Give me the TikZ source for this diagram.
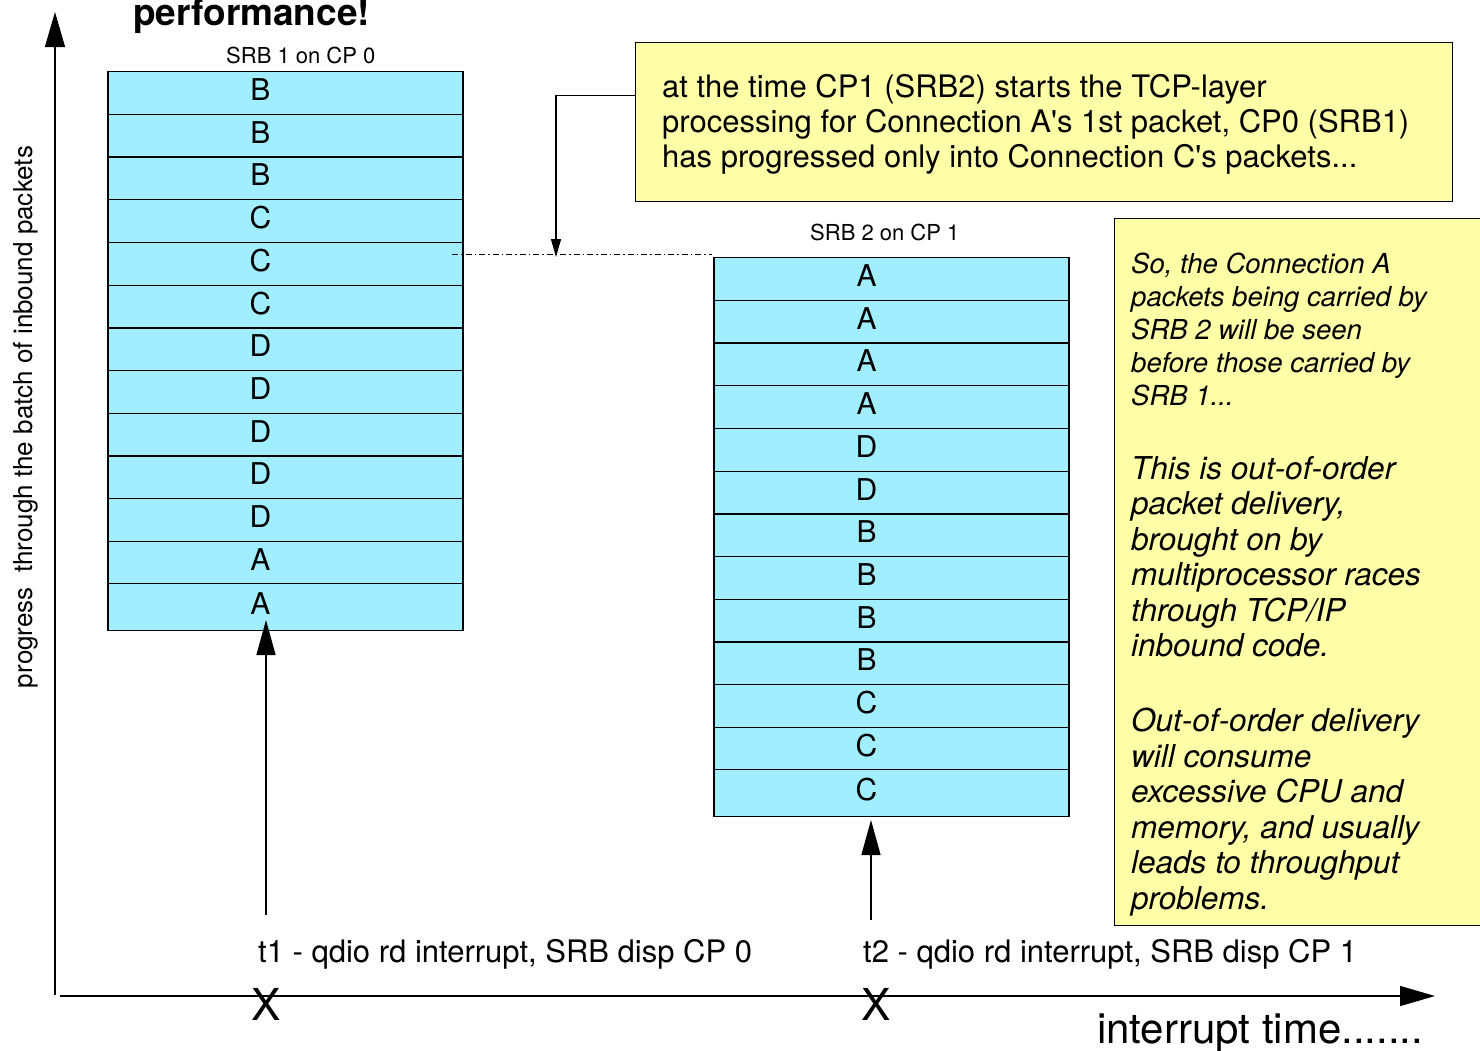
\documentclass[tikz,border=0pt]{standalone}
\usepackage{fontspec}
\setmainfont{TeX Gyre Heros}
\usetikzlibrary{arrows.meta}
\definecolor{cellcyan}{RGB}{160,238,255}
\definecolor{noteyellow}{RGB}{255,255,168}
\newcommand\fsz[2]{\fontsize{#1}{#2}\selectfont}
\begin{document}
\begin{tikzpicture}[x=1pt,y=-1pt,
  cell/.style={draw, line width=1.3pt, fill=cellcyan, minimum width=355pt, minimum height=42.7pt, inner sep=0pt, anchor=north},
  lastcell/.style={cell, minimum height=47pt},
  lab/.style={font=\fsz{30}{36}, anchor=base, inner sep=0pt},
  notebox/.style={draw, line width=1.3pt, fill=noteyellow, anchor=north west, inner sep=0pt},
  txt/.style={inner sep=0pt, align=left},
  axisline/.style={line width=1.4pt, -{Triangle[length=35pt,width=20pt]}},
  tarrow/.style={line width=1.3pt, -{Triangle[length=35pt,width=19pt]}},
  callarrow/.style={line width=1.3pt, -{Triangle[length=18pt,width=10pt]}},
  dashdot/.style={line width=0.9pt, dash pattern=on 6pt off 3pt on 1.5pt off 3pt}]
\useasboundingbox (0,0) rectangle (1480,1050);

% axes
\coordinate (origin) at (55,995);
\coordinate (ytop) at (55,12);
\draw[axisline] (origin) -- (ytop);
\coordinate (xstart) at (60,996);
\coordinate (xend) at (1435,996);
\draw[axisline] (xstart) -- (xend);

% title
\node[anchor=base west, inner sep=0pt, font=\bfseries\fsz{37}{44}] (title) at (133,25) {performance!};

% y label
\node[rotate=90, anchor=base, inner sep=0pt, font=\fsz{26}{30}] (ylab) at (32,417) {progress\ \ through the batch of inbound packets};

% SRB 1 stack
\node[anchor=base west, inner sep=0pt, font=\fsz{22}{26}] (srb1) at (226,63) {SRB 1 on CP 0};
\foreach \l [count=\i] in {B,B,B,C,C,C,D,D,D,D,D,A} {
  \node[cell] (s1-\i) at (285.5,{71+42.7*(\i-1)}) {};
  \node[lab] (l1-\i) at ([xshift=-25pt,yshift=-7.5pt]s1-\i.center) {\l};
}
\node[lastcell] (s1-13) at (285.5,583) {};
\node[lab] (l1-13) at ([xshift=-25pt]s1-13.center |- 0,614) {A};

% SRB 2 stack
\node[anchor=base west, inner sep=0pt, font=\fsz{22}{26}] (srb2) at (810,240) {SRB 2 on CP 1};
\foreach \l [count=\i] in {A,A,A,A,D,D,B,B,B,B,C,C} {
  \node[cell] (s2-\i) at (891.5,{257+42.7*(\i-1)}) {};
  \node[lab] (l2-\i) at ([xshift=-25pt,yshift=-7.5pt]s2-\i.center) {\l};
}
\node[lastcell] (s2-13) at (891.5,769) {};
\node[lab] (l2-13) at ([xshift=-25pt]s2-13.center |- 0,800) {C};

% callout note
\node[notebox, minimum width=817pt, minimum height=159pt] (note1) at (635,42) {};
\node[txt, anchor=north west, font=\fsz{31}{35}] (note1t) at (662,74)
  {at the time CP1 (SRB2) starts the TCP-layer\\processing for Connection A\textquotesingle s 1st packet, CP0 (SRB1)\\has progressed only into Connection C\textquotesingle s packets...};
\coordinate (hit) at (556,257);
\draw[callarrow] ([yshift=26.5pt]note1.west) -| (hit);
\coordinate (dd1) at (452,254);
\coordinate (dd2) at (712,254);
\draw[dashdot] (dd1) -- (dd2);

% right note
\node[notebox, minimum width=380pt, minimum height=707pt] (note2) at (1114,218) {};
\node[txt, anchor=north west, font=\itshape\fsz{27.5}{33}] (p1) at (1131,253)
  {So, the Connection A\\packets being carried by\\SRB 2 will be seen\\before those carried by\\SRB 1...};
\node[txt, anchor=north west, font=\itshape\fsz{31.5}{35.5}] (p2) at (1131,456)
  {This is out-of-order\\packet delivery,\\brought on by\\multiprocessor races\\through TCP/IP\\inbound code.};
\node[txt, anchor=north west, font=\itshape\fsz{31.5}{35.5}] (p3) at (1131,708)
  {Out-of-order delivery\\will consume\\excessive CPU and\\memory, and usually\\leads to throughput\\problems.};

% interrupt arrows
\coordinate (t1b) at (266,915);
\coordinate (t1e) at (266,620);
\draw[tarrow] (t1b) -- (t1e);
\coordinate (t2b) at (871,920);
\coordinate (t2e) at (871,820);
\draw[tarrow] (t2b) -- (t2e);
\node[anchor=base west, inner sep=0pt, font=\fsz{31}{36}] (t1lab) at (258,962) {t1 - qdio rd interrupt, SRB disp CP 0};
\node[anchor=base west, inner sep=0pt, font=\fsz{31}{36}] (t2lab) at (863,962) {t2 - qdio rd interrupt, SRB disp CP 1};

% X marks
\node[anchor=base, inner sep=0pt, font=\fsz{44}{50}] (x1) at (266,1020) {X};
\node[anchor=base, inner sep=0pt, font=\fsz{44}{50}] (x2) at (876,1020) {X};

\node[anchor=base west, inner sep=0pt, font=\fsz{42}{48}] (itime) at (1097,1043) {interrupt time.......};
\end{tikzpicture}
\end{document}
